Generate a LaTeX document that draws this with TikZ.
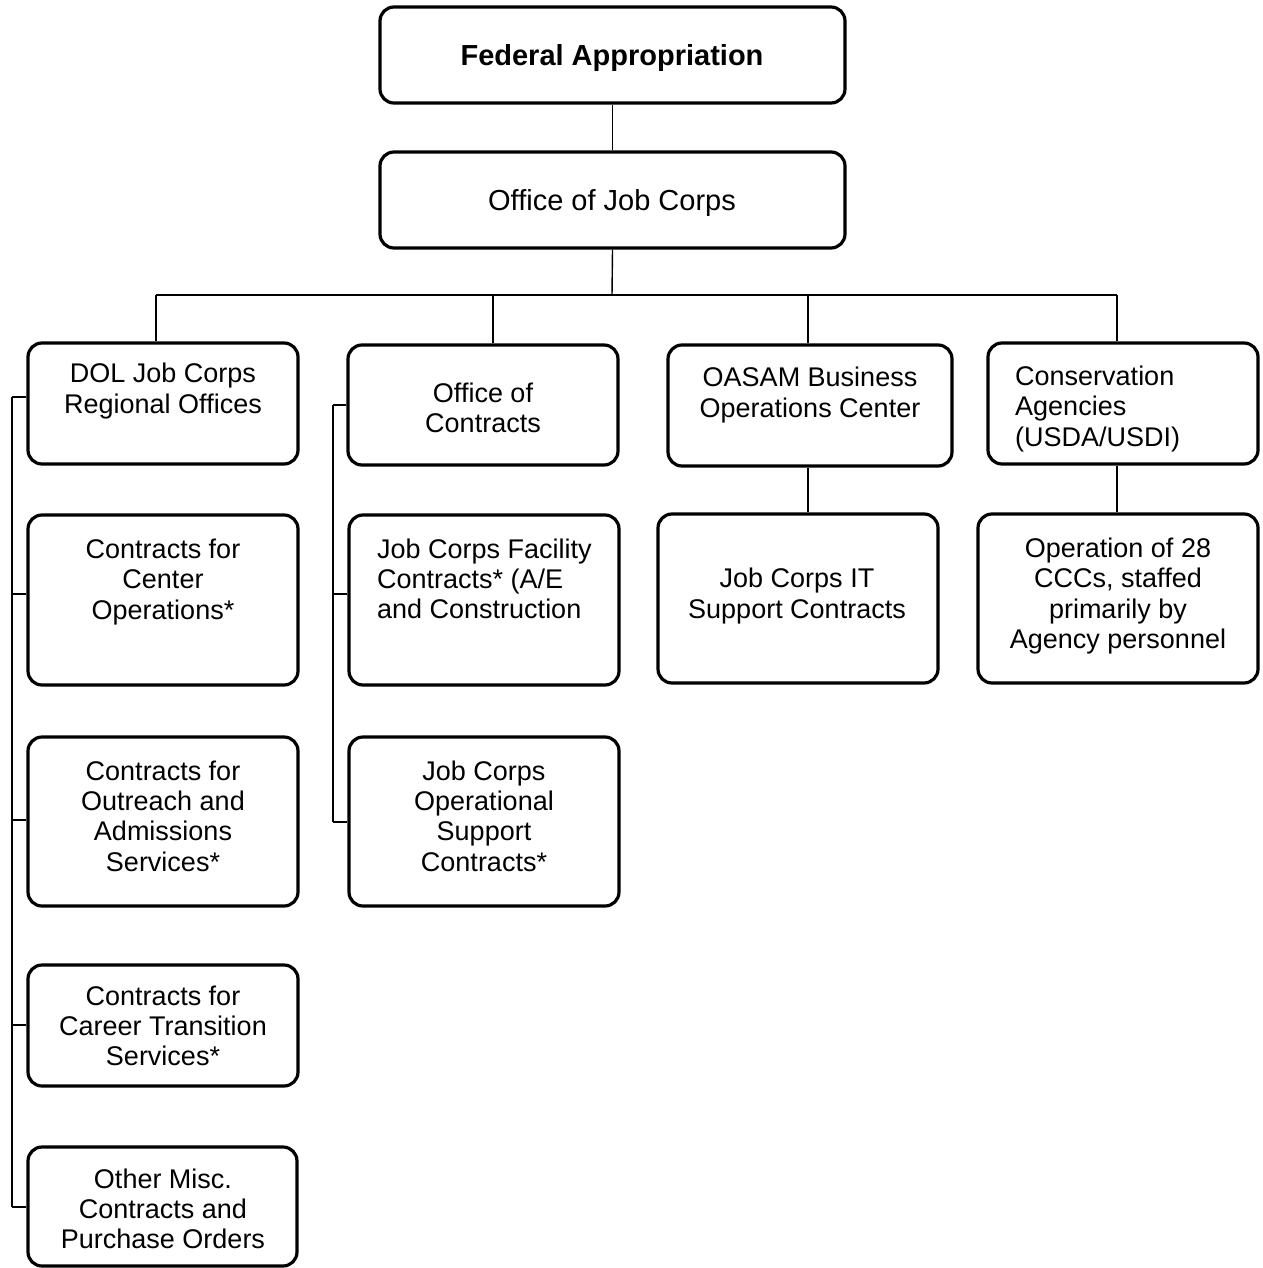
\documentclass[tikz,border=0pt]{standalone}
\usepackage{fontspec}
\setmainfont{Liberation Sans}
\begin{document}
\begin{tikzpicture}[x=1pt,y=-1pt,
  box/.style={draw, line width=3.2pt, rounded corners=14pt, inner sep=0pt},
  conn/.style={line width=1.4pt},
  txt/.style={align=center, inner sep=0pt},
  ltxt/.style={align=left, inner sep=0pt, anchor=west},
  big/.style={inner sep=0pt, font=\fontsize{29}{30.3}\selectfont},
  every node/.style={font=\fontsize{27}{30.3}\selectfont}]
\useasboundingbox (0,0) rectangle (1262,1268);
\newcommand\bx[5]{\node[box, minimum width={(#4-#2)*1pt}, minimum height={(#5-#3)*1pt}] (#1) at ({(#2+#4)/2},{(#3+#5)/2}) {};}
% boxes
\bx{fed}{380}{7}{845}{103}
\bx{ojc}{380}{152}{845}{248}
\bx{dol}{28}{343}{298}{464}
\bx{oc}{348}{345}{618}{465}
\bx{oas}{668}{345}{952}{466}
\bx{cons}{988}{343}{1258}{464}
\bx{ctr}{28}{515}{298}{685}
\bx{fac}{349}{515}{619}{685}
\bx{it}{658}{514}{938}{683}
\bx{op}{978}{514}{1258}{683}
\bx{out}{28}{737}{298}{906}
\bx{ops}{349}{737}{619}{906}
\bx{car}{28}{965}{298}{1086}
\bx{oth}{28}{1147}{297}{1266}
% texts
\node[big] (fedT) at (612,58) {\textbf{Federal Appropriation}};
\node[big] (ojcT) at (612,203) {Office of Job Corps};
\node[txt] (dolT) at (163,391) {DOL Job Corps\\Regional Offices};
\node[txt] (ocT) at (483,408) {Office of\\Contracts};
\node[txt] (oasT) at (810,395) {OASAM Business\\Operations Center};
\node[ltxt] (consT) at (1015,409) {Conservation\\Agencies\\(USDA/USDI)};
\node[txt] (ctrT) at (163,582) {Contracts for\\Center\\Operations*};
\node[ltxt] (facT) at (377,579) {Job Corps Facility\\Contracts* (A/E\\and Construction};
\node[txt] (itT) at (797,596) {Job Corps IT\\Support Contracts};
\node[txt] (opT) at (1118,596) {Operation of 28\\CCCs, staffed\\primarily by\\Agency personnel};
\node[txt] (outT) at (163,816) {Contracts for\\Outreach and\\Admissions\\Services*};
\node[txt] (opsT) at (484,816) {Job Corps\\Operational\\Support\\Contracts*};
\node[txt] (carT) at (163,1026) {Contracts for\\Career Transition\\Services*};
\node[txt] (othT) at (163,1209) {Other Misc.\\Contracts and\\Purchase Orders};
% connectors
\coordinate (bus) at (612,295);
\coordinate (d1) at (156,295);
\coordinate (d2) at (493,295);
\coordinate (d3) at (808,295);
\coordinate (d4) at (1117,295);
\draw[conn] (fed.south) -- (ojc.north);
\draw[conn] (ojc.south) -- (bus);
\draw[conn] (d1) -- (d4);
\draw[conn] (d1) -- (d1 |- dol.north);
\draw[conn] (d2) -- (d2 |- oc.north);
\draw[conn] (d3) -- (d3 |- oas.north);
\draw[conn] (d4) -- (d4 |- cons.north);
\draw[conn] (d3 |- oas.south) -- (d3 |- it.north);
\draw[conn] (d4 |- cons.south) -- (d4 |- op.north);
% left bracket
\coordinate (l1) at (12,397);
\coordinate (l2) at (12,594);
\coordinate (l3) at (12,820);
\coordinate (l4) at (12,1025);
\coordinate (l5) at (12,1207);
\draw[conn] (l1) -- (l5);
\draw[conn] (l1) -- (l1 -| dol.west);
\draw[conn] (l2) -- (l2 -| ctr.west);
\draw[conn] (l3) -- (l3 -| out.west);
\draw[conn] (l4) -- (l4 -| car.west);
\draw[conn] (l5) -- (l5 -| oth.west);
% second bracket
\coordinate (m1) at (333,405);
\coordinate (m2) at (333,594);
\coordinate (m3) at (333,822);
\draw[conn] (m1) -- (m3);
\draw[conn] (m1) -- (m1 -| oc.west);
\draw[conn] (m2) -- (m2 -| fac.west);
\draw[conn] (m3) -- (m3 -| ops.west);
\end{tikzpicture}
\end{document}
